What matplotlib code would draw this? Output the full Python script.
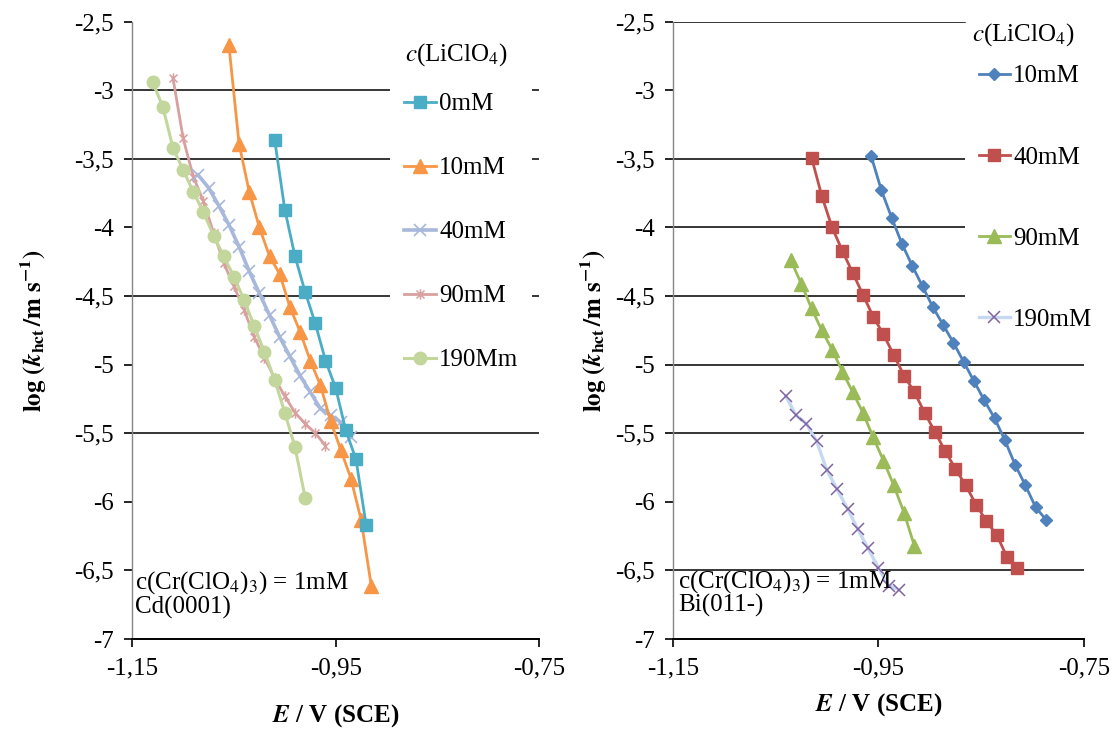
import matplotlib
matplotlib.use("Agg")
import matplotlib.pyplot as plt
from matplotlib.path import Path
from matplotlib.ticker import FixedLocator, FuncFormatter

plt.rcParams["font.family"] = ["Liberation Serif", "DejaVu Serif"]
plt.rcParams["mathtext.fontset"] = "stix"
plt.rcParams["axes.unicode_minus"] = False

# Cd(0001): log k vs E for each LiClO4 concentration
cd_labels = ["0mM", "10mM", "40mM", "90mM", "190Mm"]
cd_E_0 = [-1.01, -1.00, -0.99, -0.98, -0.97, -0.96, -0.95, -0.94, -0.93, -0.92]
cd_k_0 = [-3.36, -3.87, -4.21, -4.47, -4.70, -4.97, -5.17, -5.48, -5.69, -6.17]
cd_E_10 = [-1.055, -1.045, -1.035, -1.025, -1.015, -1.005, -0.995, -0.985,
           -0.975, -0.965, -0.955, -0.945, -0.935, -0.925, -0.915]
cd_k_10 = [-2.67, -3.39, -3.74, -4.00, -4.21, -4.34, -4.58, -4.76,
           -4.97, -5.15, -5.41, -5.62, -5.83, -6.13, -6.61]
cd_E_40 = [-1.085, -1.075, -1.065, -1.055, -1.045, -1.035, -1.025, -1.015,
           -1.005, -0.995, -0.985, -0.975, -0.965, -0.955, -0.945, -0.935]
cd_k_40 = [-3.62, -3.71, -3.84, -3.98, -4.14, -4.32, -4.48, -4.64,
           -4.80, -4.94, -5.08, -5.20, -5.32, -5.37, -5.42, -5.53]
cd_E_90 = [-1.11, -1.10, -1.09, -1.08, -1.07, -1.06, -1.05, -1.04,
           -1.03, -1.02, -1.01, -1.00, -0.99, -0.98, -0.97, -0.96]
cd_k_90 = [-2.91, -3.35, -3.63, -3.81, -4.04, -4.26, -4.43, -4.60,
           -4.80, -4.95, -5.10, -5.23, -5.35, -5.43, -5.50, -5.59]
cd_E_190 = [-1.13, -1.12, -1.11, -1.10, -1.09, -1.08, -1.07, -1.06,
            -1.05, -1.04, -1.03, -1.02, -1.01, -1.00, -0.99, -0.98]
cd_k_190 = [-2.94, -3.12, -3.42, -3.58, -3.74, -3.89, -4.06, -4.21,
            -4.36, -4.53, -4.72, -4.91, -5.11, -5.35, -5.60, -5.97]

# Bi(011-)
bi_labels = ["10mM", "40mM", "90mM", "190mM"]
bi_E_10 = [-0.957, -0.947, -0.937, -0.927, -0.917, -0.907, -0.897, -0.887, -0.877,
           -0.867, -0.857, -0.847, -0.837, -0.827, -0.817, -0.807, -0.797, -0.787]
bi_k_10 = [-3.48, -3.73, -3.93, -4.12, -4.28, -4.43, -4.58, -4.71, -4.84,
           -4.98, -5.12, -5.26, -5.39, -5.55, -5.73, -5.88, -6.04, -6.13]
bi_E_40 = [-1.015, -1.005, -0.995, -0.985, -0.975, -0.965, -0.955, -0.945, -0.935,
           -0.925, -0.915, -0.905, -0.895, -0.885, -0.875, -0.865, -0.855, -0.845,
           -0.835, -0.825, -0.815]
bi_k_40 = [-3.49, -3.77, -4.00, -4.17, -4.33, -4.49, -4.65, -4.78, -4.93,
           -5.08, -5.20, -5.35, -5.49, -5.63, -5.76, -5.88, -6.02, -6.14,
           -6.24, -6.40, -6.48]
bi_E_90 = [-1.035, -1.025, -1.015, -1.005, -0.995, -0.985, -0.975, -0.965,
           -0.955, -0.945, -0.935, -0.925, -0.915]
bi_k_90 = [-4.24, -4.41, -4.59, -4.75, -4.89, -5.05, -5.20, -5.35,
           -5.53, -5.70, -5.88, -6.08, -6.32]
bi_E_190 = [-1.04, -1.03, -1.02, -1.01, -1.00, -0.99, -0.98, -0.97,
            -0.96, -0.95, -0.94, -0.93]
bi_k_190 = [-5.23, -5.37, -5.43, -5.56, -5.77, -5.91, -6.05, -6.20,
            -6.34, -6.48, -6.61, -6.64]

x_ticks = [-1.15, -0.95, -0.75]
y_ticks = [-2.5, -3, -3.5, -4, -4.5, -5, -5.5, -6, -6.5, -7]
cd_grid = [-3, -3.5, -4.5, -5.5]
bi_grid = [-2.5, -3.5, -4, -4.5, -5, -5.5, -6.5]

# Excel-style "star" marker: an x with a vertical stroke
star = Path([(-1, -1), (1, 1), (-1, 1), (1, -1), (0, -1.3), (0, 1.3)],
            [Path.MOVETO, Path.LINETO] * 3)

W, H = 1120, 734
fig = plt.figure(figsize=(W / 100, H / 100), dpi=100)
ax1 = fig.add_axes([132.3 / W, 1 - 639 / H, 406.7 / W, 617.3 / H])
ax2 = fig.add_axes([672.7 / W, 1 - 639 / H, 411.3 / W, 617.3 / H])

comma = FuncFormatter(lambda v, pos: f"{v:g}".replace(".", ","))


def style_axes(ax, grid_levels, grid_stop=None):
    ax.set_xlim(-1.15, -0.75)
    ax.set_ylim(-7, -2.5)
    ax.xaxis.set_major_locator(FixedLocator(x_ticks))
    ax.yaxis.set_major_locator(FixedLocator(y_ticks))
    ax.xaxis.set_major_formatter(comma)
    ax.yaxis.set_major_formatter(comma)
    for side in ("top", "right"):
        ax.spines[side].set_visible(False)
    ax.spines["left"].set_color("#868686")
    ax.spines["left"].set_linewidth(1.0)
    ax.spines["bottom"].set_color("black")
    ax.spines["bottom"].set_linewidth(1.4)
    ax.tick_params(axis="both", direction="out", length=6, width=1.2,
                   color="black", labelsize=18, pad=7)
    for lev in grid_levels:
        # the top line stops short of the legend title
        xmax = grid_stop if (grid_stop and lev == -2.5) else 1
        ax.axhline(lev, xmax=xmax, color="black", lw=1.1, zorder=1)
    ax.set_xlabel(r"$\mathbfit{E}$ / V (SCE)", fontsize=18, fontweight="bold")
    ax.set_ylabel(r"$\mathbf{log\ (}\mathbfit{k}_{\mathbf{hct}}\mathbf{\,/m\ s^{-1})}$",
                  fontsize=18)


style_axes(ax1, cd_grid)
style_axes(ax2, bi_grid, grid_stop=0.71)
ax1.xaxis.set_label_coords(0.5, -0.103)
ax2.xaxis.set_label_coords(0.5, -0.085)
ax1.yaxis.set_label_coords(-0.205, 0.5)
ax2.yaxis.set_label_coords(-0.155, 0.5)

# left panel
h = []
h += ax1.plot(cd_E_0, cd_k_0, "-s", color="#4BACC6", lw=2.0, ms=9, zorder=5)
h += ax1.plot(cd_E_10, cd_k_10, "-^", color="#F79646", lw=2.0, ms=9.5, zorder=4)
h += ax1.plot(cd_E_40, cd_k_40, "-x", color="#A7B8DB", lw=2.6, ms=8, mew=1.2, zorder=3)
h += ax1.plot(cd_E_90, cd_k_90, "-", marker=star, color="#D9A0A0", lw=2.0, ms=7.5,
              mew=1.1, zorder=2)
h += ax1.plot(cd_E_190, cd_k_190, "-o", color="#C3D69B", lw=2.2, ms=9, zorder=3)
leg1 = ax1.legend(h, cd_labels, loc="upper left", bbox_to_anchor=(390 / W, 1 - 79 / H),
                  bbox_transform=fig.transFigure, fontsize=18, frameon=True,
                  facecolor="white", edgecolor="none", framealpha=1, fancybox=False,
                  numpoints=1, handlelength=1.3, handletextpad=0.12,
                  labelspacing=1.66, borderpad=0.55, borderaxespad=0)
leg1.set_zorder(10)
fig.text(405 / W, 1 - 55 / H, r"$\mathit{c}$(LiClO$_4$)", fontsize=18, va="center")
fig.text(135 / W, 1 - 583 / H, r"c(Cr(ClO$_4$)$_3$) = 1mM", fontsize=18, va="center")
fig.text(135 / W, 1 - 607 / H, "Cd(0001)", fontsize=18, va="center")

# right panel
g = []
g += ax2.plot(bi_E_10, bi_k_10, "-D", color="#4F81BD", lw=2.0, ms=6.5, zorder=4)
g += ax2.plot(bi_E_40, bi_k_40, "-s", color="#C0504D", lw=2.0, ms=9, zorder=4)
g += ax2.plot(bi_E_90, bi_k_90, "-^", color="#9BBB59", lw=2.0, ms=9.5, zorder=4)
g += ax2.plot(bi_E_190, bi_k_190, "-x", color="#C6D9F1", lw=2.4, ms=8, mew=1.1,
              mec="#8064A2", zorder=4)
leg2 = ax2.legend(g, bi_labels, loc="upper left", bbox_to_anchor=(965 / W, 1 - 51 / H),
                  bbox_transform=fig.transFigure, fontsize=18, frameon=True,
                  facecolor="white", edgecolor="none", framealpha=1, fancybox=False,
                  numpoints=1, handlelength=1.25, handletextpad=0.12,
                  labelspacing=2.35, borderpad=0.55, borderaxespad=0)
leg2.set_zorder(10)
fig.text(972 / W, 1 - 35 / H, r"$\mathit{c}$(LiClO$_4$)", fontsize=18, va="center")
fig.text(678 / W, 1 - 582 / H, r"c(Cr(ClO$_4$)$_3$) = 1mM", fontsize=18, va="center")
fig.text(678 / W, 1 - 605 / H, "Bi(011-)", fontsize=18, va="center")

fig.savefig("out.png", dpi=100)
